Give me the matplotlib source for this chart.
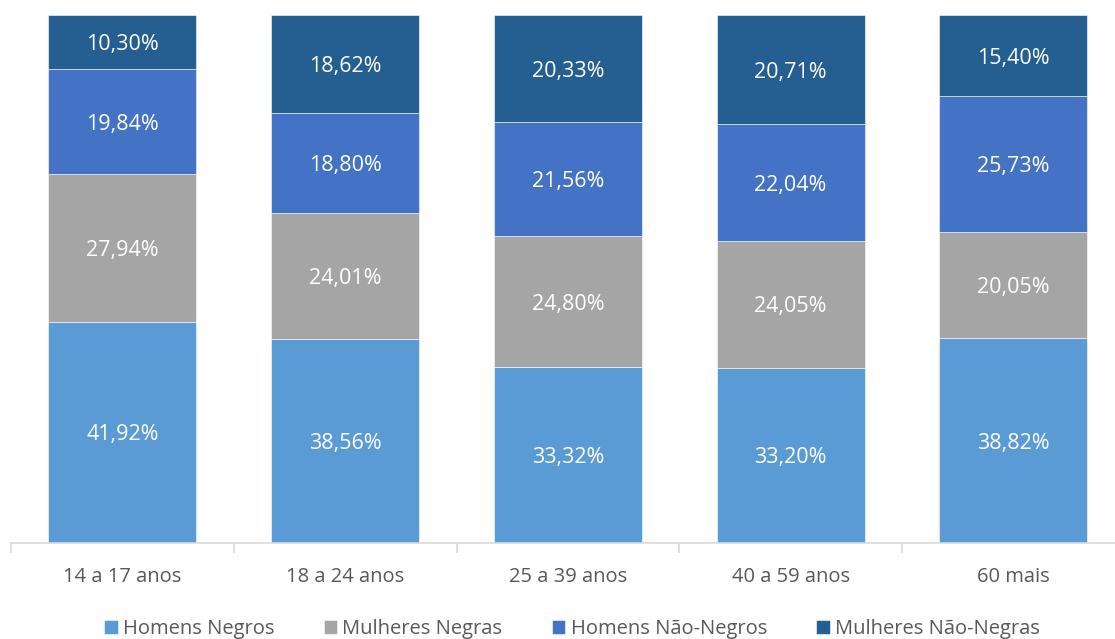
import numpy as np
import matplotlib
matplotlib.use("Agg")
import matplotlib.pyplot as plt

# ── dados ──────────────────────────────────────────────────────────────
categorias = ["14 a 17 anos", "18 a 24 anos", "25 a 39 anos", "40 a 59 anos", "60 mais"]
series = ["Homens Negros", "Mulheres Negras", "Homens Não-Negros", "Mulheres Não-Negras"]
homens_negros = [41.92, 38.56, 33.32, 33.20, 38.82]
mulheres_negras = [27.94, 24.01, 24.80, 24.05, 20.05]
homens_nao_negros = [19.84, 18.80, 21.56, 22.04, 25.73]
mulheres_nao_negras = [10.30, 18.62, 20.33, 20.71, 15.40]

cores = ["#5B9BD5", "#A5A5A5", "#4472C4", "#255E91"]

plt.rcParams["font.family"] = ["Open Sans", "DejaVu Sans"]

fig = plt.figure(figsize=(11.15, 6.39), dpi=100)
ax = fig.add_axes([11 / 1115, 1 - 543 / 639, 1113.75 / 1115, 528 / 639])

x = np.arange(len(categorias))
base = np.zeros(len(categorias))
for nome, vals, cor in zip(series, [homens_negros, mulheres_negras, homens_nao_negros, mulheres_nao_negras], cores):
    vals = np.array(vals)
    ax.bar(x, vals, 0.664, bottom=base, color=cor, edgecolor="white", linewidth=0.4, label=nome)
    for xi, b, v in zip(x, base, vals):
        ax.text(xi, b + v / 2, f"{v:.2f}%".replace(".", ","), ha="center", va="center_baseline",
                color="white", fontsize=15.5)
    base += vals

ax.set_xlim(-0.5, len(categorias) - 0.5)
ax.set_ylim(0, 100)
ax.set_yticks([])
for s in ["top", "right", "left"]:
    ax.spines[s].set_visible(False)
ax.spines["bottom"].set_color("#D9D9D9")
ax.spines["bottom"].set_linewidth(1.2)

ax.set_xticks(np.arange(len(categorias) + 1) - 0.5, minor=True)
ax.tick_params(axis="x", which="minor", length=7, color="#D9D9D9", width=1.2)
ax.set_xticks(x)
ax.set_xticklabels(categorias)
ax.tick_params(axis="x", which="major", length=0, pad=17, labelsize=14.5, labelcolor="#595959")

fig.legend(loc="center", bbox_to_anchor=(0.513, 1 - 629 / 639), ncol=4, frameon=False,
           fontsize=14.5, labelcolor="#595959", handlelength=0.68, handleheight=0.68,
           handletextpad=0.25, columnspacing=2.45)

fig.savefig("out.png", dpi=100)
